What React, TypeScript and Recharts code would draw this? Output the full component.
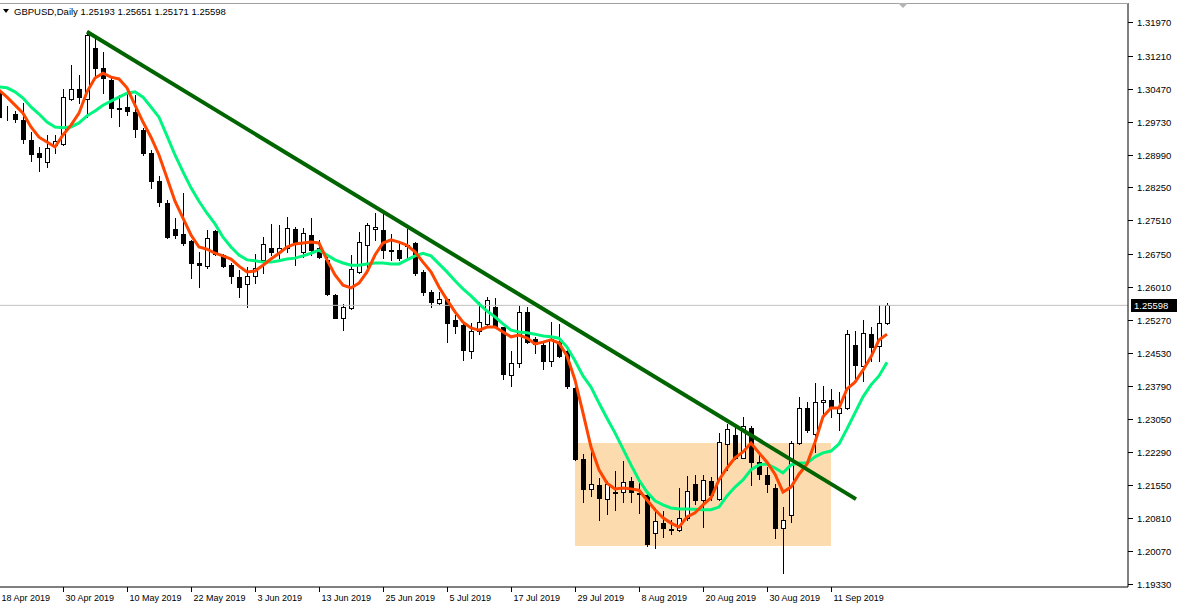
import React from "react";
import {
  Bar,
  ComposedChart,
  Line,
  ReferenceArea,
  ReferenceLine,
  XAxis,
  YAxis,
} from "recharts";

// GBPUSD daily, 18 Apr 2019 .. 20 Sep 2019, one entry per trading day.
// Values (pixel -> price), so they are approximate.

const opens = [
  1.304, 1.2986, 1.299, 1.2977, 1.2932, 1.2903, 1.2883, 1.292, 1.2922, 1.3023,
  1.3046, 1.3025, 1.3138, 1.3093, 1.3067, 1.3003, 1.3007, 1.2994, 1.2954, 1.2902,
  1.284, 1.2791, 1.2731, 1.272, 1.2705, 1.2656, 1.2649, 1.2727, 1.2673, 1.2651,
  1.2623, 1.2607, 1.2626, 1.2662, 1.2688, 1.268, 1.2688, 1.2731, 1.268, 1.2718,
  1.2688, 1.2662, 1.2583, 1.2532, 1.2553, 1.2634, 1.2696, 1.2731, 1.2729, 1.2684,
  1.2684, 1.2693, 1.2699, 1.2634, 1.2589, 1.2566, 1.2574, 1.2527, 1.2516, 1.2458,
  1.2502, 1.2517, 1.2555, 1.251, 1.2402, 1.2429, 1.2544, 1.2483, 1.2471, 1.2435,
  1.2478, 1.2456, 1.2375, 1.2214, 1.2146, 1.2156, 1.2124, 1.2141, 1.2139, 1.2165,
  1.2138, 1.2133, 1.2047, 1.207, 1.2057, 1.2055, 1.2082, 1.2158, 1.2122, 1.2165,
  1.2124, 1.2247, 1.2268, 1.2217, 1.2285, 1.2207, 1.2178, 1.2148, 1.2058, 1.2088,
  1.225, 1.2328, 1.227, 1.2342, 1.2348, 1.2317, 1.2328, 1.2471, 1.2423, 1.2495,
  1.2469, 1.25193,
];
const highs = [
  1.3053, 1.3008, 1.2997, 1.3016, 1.295, 1.2915, 1.2943, 1.2944, 1.3046, 1.31,
  1.3078, 1.3177, 1.3168, 1.3129, 1.307, 1.3034, 1.3046, 1.3034, 1.2958, 1.2909,
  1.2851, 1.2797, 1.2757, 1.2812, 1.2707, 1.268, 1.2729, 1.2729, 1.2675, 1.2654,
  1.2639, 1.2647, 1.2675, 1.2714, 1.2742, 1.2741, 1.2759, 1.2737, 1.2733, 1.2756,
  1.2707, 1.2669, 1.2585, 1.2562, 1.2673, 1.2724, 1.2744, 1.2767, 1.2774, 1.272,
  1.2703, 1.2731, 1.2703, 1.2639, 1.2594, 1.2589, 1.2575, 1.2538, 1.2523, 1.2521,
  1.2568, 1.2579, 1.2576, 1.2512, 1.2456, 1.2558, 1.2557, 1.2489, 1.2474, 1.2522,
  1.2518, 1.2459, 1.2377, 1.2225, 1.2248, 1.2171, 1.2165, 1.2187, 1.221, 1.2174,
  1.2167, 1.2141, 1.2103, 1.2097, 1.2077, 1.2148, 1.2176, 1.2178, 1.2178, 1.2174,
  1.2272, 1.2293, 1.2287, 1.2308, 1.2288, 1.2225, 1.2197, 1.2158, 1.2106, 1.2255,
  1.2353, 1.2342, 1.2385, 1.2378, 1.2371, 1.2366, 1.2504, 1.2502, 1.2527, 1.2512,
  1.2561, 1.25651,
];
const lows = [
  1.2977, 1.2977, 1.2973, 1.2926, 1.2885, 1.2863, 1.2872, 1.2902, 1.292, 1.3022,
  1.3016, 1.2984, 1.307, 1.3037, 1.2984, 1.2964, 1.2989, 1.2938, 1.2898, 1.2823,
  1.2783, 1.2711, 1.2711, 1.2696, 1.2621, 1.2602, 1.2643, 1.2673, 1.2647, 1.2611,
  1.2579, 1.2557, 1.2609, 1.2632, 1.2673, 1.2662, 1.268, 1.2651, 1.2669, 1.2673,
  1.2666, 1.2583, 1.2531, 1.2504, 1.2552, 1.2632, 1.2647, 1.2707, 1.2666, 1.2662,
  1.2662, 1.2662, 1.2628, 1.2583, 1.2555, 1.2563, 1.2478, 1.2498, 1.2437, 1.2442,
  1.2495, 1.2512, 1.2512, 1.2394, 1.2379, 1.2422, 1.2474, 1.2453, 1.2416, 1.2423,
  1.2444, 1.2375, 1.2212, 1.2118, 1.2132, 1.2077, 1.209, 1.21, 1.2118, 1.2118,
  1.2093, 1.2019, 1.2013, 1.2039, 1.2046, 1.2053, 1.2077, 1.2113, 1.2062, 1.2122,
  1.2122, 1.219, 1.2214, 1.2216, 1.2156, 1.2169, 1.2139, 1.2036, 1.1957, 1.2073,
  1.2248, 1.2276, 1.2231, 1.2312, 1.2309, 1.2279, 1.2326, 1.2396, 1.239, 1.2435,
  1.2435, 1.25171,
];
const closes = [
  1.2983, 1.2985, 1.2978, 1.2933, 1.29, 1.2894, 1.2913, 1.2929, 1.3028, 1.3046,
  1.3029, 1.3168, 1.3093, 1.307, 1.3003, 1.3001, 1.2998, 1.2956, 1.2902, 1.284,
  1.2793, 1.2714, 1.2718, 1.2701, 1.2656, 1.2651, 1.2711, 1.2675, 1.2649, 1.2626,
  1.2602, 1.2626, 1.2643, 1.2698, 1.268, 1.2688, 1.2734, 1.2703, 1.2722, 1.2684,
  1.2669, 1.2585, 1.2532, 1.2555, 1.2642, 1.2702, 1.2741, 1.2735, 1.2684, 1.2682,
  1.2667, 1.2695, 1.2632, 1.259, 1.2567, 1.2574, 1.2521, 1.2514, 1.2459, 1.2502,
  1.2522, 1.2572, 1.2514, 1.2405, 1.2429, 1.2544, 1.2478, 1.2473, 1.2435, 1.2483,
  1.2446, 1.2378, 1.2214, 1.2147, 1.2158, 1.2127, 1.2157, 1.2137, 1.2163, 1.2141,
  1.2136, 1.2023, 1.2075, 1.2058, 1.2055, 1.2082, 1.2142, 1.2122, 1.2166, 1.2133,
  1.2252, 1.2281, 1.2217, 1.2288, 1.2208, 1.218, 1.2157, 1.206, 1.2077, 1.225,
  1.2328, 1.2279, 1.2342, 1.2348, 1.2328, 1.2328, 1.2495, 1.2426, 1.2497, 1.2467,
  1.2519, 1.25598,
];

// orange-red (fast) and spring-green (slow) moving averages, read per bar
const fastMA = [
  1.3044, 1.3028, 1.301, 1.2992, 1.2961, 1.2938, 1.2927, 1.2916, 1.2943, 1.2965,
  1.2992, 1.304, 1.3071, 1.3082, 1.3073, 1.3069, 1.3049, 1.301, 1.2972, 1.2938,
  1.2898, 1.2846, 1.2794, 1.2756, 1.2718, 1.2691, 1.2686, 1.2677, 1.2671, 1.2664,
  1.2648, 1.2635, 1.2637, 1.265, 1.2664, 1.2677, 1.2691, 1.2698, 1.27, 1.2702,
  1.27, 1.2662, 1.2628, 1.2605, 1.2599, 1.261, 1.2635, 1.2673, 1.27, 1.2707,
  1.2702, 1.2695, 1.268, 1.2657, 1.2635, 1.2601, 1.2572, 1.2545, 1.2522, 1.2509,
  1.2504, 1.2511, 1.2511, 1.25, 1.2489, 1.2493, 1.2486, 1.2473, 1.2477, 1.2482,
  1.2475, 1.2446, 1.2392, 1.2318, 1.2241, 1.219, 1.216, 1.2147, 1.2149, 1.2147,
  1.2144, 1.2122, 1.21, 1.2082, 1.207, 1.2061, 1.2084, 1.2093, 1.2111, 1.2127,
  1.2167, 1.2194, 1.2217, 1.223, 1.225, 1.2228, 1.2207, 1.218, 1.214, 1.2151,
  1.218, 1.2203, 1.2252, 1.2309, 1.2329, 1.2329, 1.2372, 1.2387, 1.2414, 1.2444,
  1.2482, 1.2495,
];
const slowMA = [
  1.3051, 1.3049, 1.304, 1.3026, 1.3006, 1.299, 1.2972, 1.2961, 1.2959, 1.2961,
  1.297, 1.2986, 1.2997, 1.301, 1.3019, 1.3028, 1.3037, 1.304, 1.3028, 1.3006,
  1.2983, 1.2941, 1.2898, 1.286, 1.2824, 1.2794, 1.2767, 1.2743, 1.2713, 1.2691,
  1.2673, 1.2662, 1.266, 1.2657, 1.2657, 1.266, 1.2664, 1.2666, 1.2671, 1.2677,
  1.2684, 1.2673, 1.2662, 1.2655, 1.265, 1.265, 1.2653, 1.2655, 1.2655, 1.2653,
  1.2653, 1.2662, 1.2671, 1.2677, 1.2671, 1.2653, 1.2635, 1.2615, 1.2597, 1.2581,
  1.2563, 1.2547, 1.2534, 1.2518, 1.2504, 1.25, 1.2498, 1.2495, 1.2491, 1.2489,
  1.2486, 1.2466, 1.2435, 1.2401, 1.2376, 1.234, 1.2306, 1.2273, 1.2237, 1.2201,
  1.2167, 1.214, 1.212, 1.2111, 1.2104, 1.2102, 1.2102, 1.2101, 1.21, 1.21,
  1.2106, 1.2131, 1.2151, 1.2167, 1.219, 1.2201, 1.2203, 1.2194, 1.2183, 1.2201,
  1.2205, 1.2205, 1.2219, 1.2228, 1.2232, 1.2248, 1.2282, 1.2318, 1.2354, 1.2381,
  1.2401, 1.2432,
];

// one date label every 8 bars, starting at bar 0
const dateLabels = [
  "18 Apr 2019", "30 Apr 2019", "10 May 2019", "22 May 2019", "3 Jun 2019",
  "13 Jun 2019", "25 Jun 2019", "5 Jul 2019", "17 Jul 2019", "29 Jul 2019",
  "8 Aug 2019", "20 Aug 2019", "30 Aug 2019", "11 Sep 2019",
];
const priceTicks = [
  1.3197, 1.3121, 1.3047, 1.2973, 1.2899, 1.2825, 1.2751, 1.2675, 1.2601,
  1.2527, 1.2453, 1.2379, 1.2305, 1.2229, 1.2155, 1.2081, 1.2007, 1.1933,
];

// trendline from the early-May high, and the August consolidation box
const trendStart = { idx: 11, price: 1.3175 };
const trendEnd = { idx: 107.125, price: 1.2124 };
const boxX = [72, 104];
const boxY = [1.20185, 1.22502];

const W = 1180;
const H = 605;
const AXIS_W = 52;
const AXIS_H = 18;
const PLOT_RIGHT = W - AXIS_W;
const PLOT_BOTTOM = H - AXIS_H;
const Y_MIN = 1.19263;
const Y_MAX = 1.32398;
const FONT = '"Liberation Sans", Arial, sans-serif';
const LAST = closes[closes.length - 1];

const data = opens.map((o, i) => ({
  idx: i,
  open: o,
  high: highs[i],
  low: lows[i],
  close: closes[i],
  fast: fastMA[i],
  slow: slowMA[i],
}));

const xTickIdx = dateLabels.map((_, i) => i * 8);

function Candle(props: any) {
  const { x, y, width, height, payload } = props;
  if (!payload || y == null || height == null) return null;
  const { open, high, low, close } = payload;
  const top0 = Math.min(y, y + height);
  const h = Math.abs(height);
  const py = (p: number) => top0 + ((high - p) / (high - low || 1)) * h;
  const cx = Math.round(x + width / 2) + 0.5;
  const bTop = Math.round(py(Math.max(open, close))) + 0.5;
  const bBot = Math.round(py(Math.min(open, close))) + 0.5;
  const bull = close >= open;
  return (
    <g>
      <line
        x1={cx}
        x2={cx}
        y1={Math.round(top0)}
        y2={Math.round(top0 + h) + 1}
        stroke="#000"
        strokeWidth={1}
      />
      <rect
        x={cx - 2}
        y={bTop}
        width={4}
        height={Math.max(bBot - bTop, 0)}
        fill={bull ? "#fff" : "#000"}
        stroke="#000"
        strokeWidth={1}
      />
    </g>
  );
}

function XTick(props: any) {
  const { x, payload } = props;
  const label = dateLabels[Math.round(payload.value / 8)] ?? "";
  const tx = Math.round(x) + 0.5;
  return (
    <g>
      <line x1={tx} x2={tx} y1={PLOT_BOTTOM} y2={PLOT_BOTTOM + 5} stroke="#000" />
      <text x={tx + 2} y={PLOT_BOTTOM + 14} fontSize={9} fontFamily={FONT} fill="#000">
        {label}
      </text>
    </g>
  );
}

function YTick(props: any) {
  const { y, payload } = props;
  const ty = Math.round(y) + 0.5;
  return (
    <g>
      <line x1={PLOT_RIGHT} x2={PLOT_RIGHT + 5} y1={ty} y2={ty} stroke="#000" />
      <text
        x={PLOT_RIGHT + 9}
        y={ty + 3.5}
        fontSize={9.5}
        fontFamily={FONT}
        fill="#000"
      >
        {payload.value.toFixed(5)}
      </text>
    </g>
  );
}

function PriceTag(props: any) {
  const vb = props.viewBox || {};
  const yy = Math.round(vb.y ?? 0);
  return (
    <g>
      <rect x={PLOT_RIGHT + 3} y={yy - 6} width={46} height={13} fill="#000" />
      <text
        x={PLOT_RIGHT + 6}
        y={yy + 4}
        fontSize={9.5}
        fontFamily={FONT}
        fill="#fff"
      >
        {LAST.toFixed(5)}
      </text>
    </g>
  );
}

export default function App() {
  return (
    <div
      style={{
        position: "absolute",
        left: 0,
        top: 0,
        width: W,
        height: H,
        background: "#fff",
        overflow: "hidden",
      }}
    >
      <ComposedChart
        width={W}
        height={H}
        data={data}
        margin={{ top: 3, right: 0, bottom: 0, left: 0 }}
      >
        <XAxis
          dataKey="idx"
          type="number"
          domain={[0.125, 141.125]}
          allowDataOverflow
          ticks={xTickIdx}
          interval={0}
          height={AXIS_H}
          axisLine={{ stroke: "#000" }}
          tickLine={false}
          tick={<XTick />}
        />
        <YAxis
          orientation="right"
          type="number"
          domain={[Y_MIN, Y_MAX]}
          allowDataOverflow
          ticks={priceTicks}
          interval={0}
          width={AXIS_W}
          axisLine={{ stroke: "#000" }}
          tickLine={false}
          tick={<YTick />}
        />
        <ReferenceArea
          x1={boxX[0]}
          x2={boxX[1]}
          y1={boxY[0]}
          y2={boxY[1]}
          fill="#fcdcae"
          fillOpacity={1}
          stroke="none"
        />
        <ReferenceLine
          y={LAST}
          stroke="#c0c0c0"
          strokeWidth={1}
          label={<PriceTag />}
        />
        <Bar
          dataKey={(d: any) => [d.low, d.high]}
          barSize={5}
          shape={<Candle />}
          isAnimationActive={false}
        />
        <Line
          dataKey="slow"
          type="linear"
          stroke="#00f57f"
          strokeWidth={3}
          dot={false}
          isAnimationActive={false}
        />
        <Line
          dataKey="fast"
          type="linear"
          stroke="#ff4500"
          strokeWidth={3}
          dot={false}
          isAnimationActive={false}
        />
        <ReferenceLine
          segment={[
            { x: trendStart.idx, y: trendStart.price },
            { x: trendEnd.idx, y: trendEnd.price },
          ]}
          stroke="#006400"
          strokeWidth={4}
        />
      </ComposedChart>
      <svg
        width={W}
        height={H}
        style={{ position: "absolute", left: 0, top: 0, pointerEvents: "none" }}
      >
        <line x1={0} x2={PLOT_RIGHT} y1={3.5} y2={3.5} stroke="#a0a0a0" />
        <polygon points="898,3 908,3 903,8" fill="#b4b4b4" />
        <polygon points="3,9 9,9 6,13" fill="#000" />
        <text x={14} y={15} fontSize={9.5} fontFamily={FONT} fill="#000">
          {"GBPUSD,Daily  " +
            [opens, highs, lows, closes]
              .map((a) => a[a.length - 1].toFixed(5))
              .join(" ")}
        </text>
      </svg>
    </div>
  );
}
